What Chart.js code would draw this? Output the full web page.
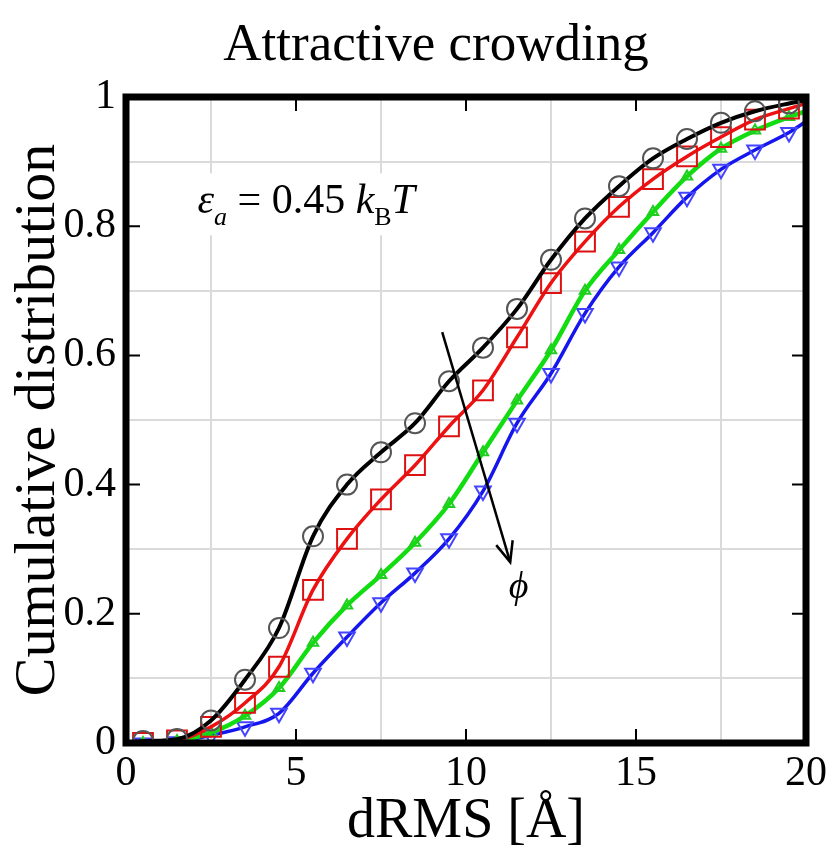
<!DOCTYPE html>
<html>
<head>
<meta charset="utf-8">
<script src="https://cdn.jsdelivr.net/npm/chart.js@4/dist/chart.umd.min.js"></script>
<style>
  body { margin: 0; background: #fff; }
  #wrap { width: 835px; height: 854px; position: relative; }
</style>
</head>
<body>
<div id="wrap"><canvas id="myChart"></canvas></div>
<script>
// dRMS bins (Å) where the curves are sampled, plus the two edges of the plot
const dRms = [0, 0.5, 1.5, 2.5, 3.5, 4.5, 5.5, 6.5, 7.5, 8.5, 9.5, 10.5, 11.5, 12.5, 13.5, 14.5, 15.5, 16.5, 17.5, 18.5, 19.5, 20]

// cumulative distribution, one array per crowder fraction (phi grows black -> blue)
const cdfBlack = [0, 0.003, 0.006, 0.035, 0.098, 0.178, 0.32, 0.40, 0.45, 0.495, 0.56, 0.612, 0.672, 0.748, 0.812, 0.862, 0.905, 0.935, 0.96, 0.978, 0.99, 0.995]
const cdfRed   = [0, 0.0, 0.004, 0.025, 0.062, 0.118, 0.237, 0.316, 0.377, 0.43, 0.49, 0.546, 0.628, 0.712, 0.776, 0.83, 0.873, 0.908, 0.938, 0.965, 0.982, 0.99]
const cdfGreen = [0, 0.0, 0.003, 0.016, 0.042, 0.085, 0.155, 0.213, 0.26, 0.31, 0.37, 0.45, 0.53, 0.608, 0.7, 0.763, 0.822, 0.877, 0.92, 0.948, 0.969, 0.978]
const cdfBlue  = [0, 0.0, 0.002, 0.012, 0.025, 0.046, 0.108, 0.164, 0.217, 0.263, 0.316, 0.39, 0.495, 0.572, 0.665, 0.737, 0.79, 0.845, 0.888, 0.918, 0.945, 0.962]

const xTicks = [0, 5, 10, 15, 20]
const yTicks = [0, 0.2, 0.4, 0.6, 0.8, 1]

const serif = "'Liberation Serif', 'Times New Roman', serif"
Chart.defaults.font.family = serif
Chart.defaults.color = '#000'

function points(ys) {
  return dRms.map((x, i) => ({x: x, y: ys[i]}))
}
// no marker on the two edge points
function radii(r) {
  return dRms.map((x) => (x === 0 || x === 20) ? 0 : r)
}

function series(label, ys, color, style, r, width, markerColor, rot) {
  return {
    label: label,
    data: points(ys),
    borderColor: color,
    borderWidth: width,
    backgroundColor: 'rgba(0,0,0,0)',
    pointStyle: style,
    pointRadius: radii(r),
    pointBorderColor: markerColor,
    pointBorderWidth: 2,
    pointRotation: rot || 0,
    cubicInterpolationMode: 'monotone',
    fill: false
  }
}

const isMajor = (v, step) => Math.abs(v / step - Math.round(v / step)) < 1e-6

const frame = {
  id: 'frame',
  beforeDatasetsDraw(chart) {
    const ctx = chart.ctx
    const xs = chart.scales.x, ys = chart.scales.y
    // annotation with white box behind
    const x0 = xs.getPixelForValue(2.1), y0 = ys.getPixelForValue(0.82)
    ctx.save()
    ctx.fillStyle = '#fff'
    ctx.fillRect(x0 - 4, y0 - 40, 255, 62)
    ctx.fillStyle = '#000'
    ctx.textBaseline = 'alphabetic'
    let cx = x0
    const put = (txt, font, dy) => {
      ctx.font = font
      ctx.fillText(txt, cx, y0 + (dy || 0))
      cx += ctx.measureText(txt).width
    }
    put('ε', 'italic 42px ' + serif)
    put('a', 'italic 26px ' + serif, 12)
    put(' = 0.45 ', '42px ' + serif)
    put('k', 'italic 42px ' + serif)
    put('B', '26px ' + serif, 12)
    put('T', 'italic 42px ' + serif)
    ctx.restore()
  },
  afterDatasetsDraw(chart) {
    const ctx = chart.ctx
    const a = chart.chartArea
    const xs = chart.scales.x, ys = chart.scales.y
    ctx.save()
    // inward ticks on all four sides
    ctx.strokeStyle = '#000'
    ctx.lineWidth = 2
    ctx.beginPath()
    xTicks.forEach((v) => {
      const px = xs.getPixelForValue(v)
      ctx.moveTo(px, a.bottom); ctx.lineTo(px, a.bottom - 14)
      ctx.moveTo(px, a.top); ctx.lineTo(px, a.top + 14)
    })
    yTicks.forEach((v) => {
      const py = ys.getPixelForValue(v)
      ctx.moveTo(a.left, py); ctx.lineTo(a.left + 14, py)
      ctx.moveTo(a.right, py); ctx.lineTo(a.right - 14, py)
    })
    ctx.stroke()
    // thick frame
    ctx.lineWidth = 7
    ctx.strokeRect(a.left, a.top, a.right - a.left, a.bottom - a.top)

    // arrow showing increasing phi
    const ax0 = xs.getPixelForValue(9.3), ay0 = ys.getPixelForValue(0.636)
    const ax1 = xs.getPixelForValue(11.3), ay1 = ys.getPixelForValue(0.28)
    ctx.lineWidth = 2.5
    ctx.beginPath()
    ctx.moveTo(ax0, ay0); ctx.lineTo(ax1, ay1)
    ctx.stroke()
    const ang = Math.atan2(ay1 - ay0, ax1 - ax0)
    ctx.beginPath()
    ctx.moveTo(ax1 - 22 * Math.cos(ang - 0.4), ay1 - 22 * Math.sin(ang - 0.4))
    ctx.lineTo(ax1, ay1)
    ctx.lineTo(ax1 - 22 * Math.cos(ang + 0.4), ay1 - 22 * Math.sin(ang + 0.4))
    ctx.stroke()
    ctx.font = 'italic 38px ' + serif
    ctx.fillStyle = '#000'
    ctx.textAlign = 'center'
    ctx.textBaseline = 'middle'
    ctx.fillText('ϕ', xs.getPixelForValue(11.55), ys.getPixelForValue(0.24))

    // title
    ctx.font = '53px ' + serif
    ctx.fillText('Attractive crowding', 436, 46)
    ctx.restore()
  }
}

const ctx = document.getElementById('myChart')
const lineChart = new Chart(ctx, {
  type: 'line',
  data: {
    datasets: [
      series('black', cdfBlack, '#000000', 'circle', 10, 4, '#555555'),
      series('red', cdfRed, '#ee1111', 'rect', 14, 3.5, '#dd1111'),
      series('green', cdfGreen, '#11dd11', 'triangle', 6, 4.5, '#22cc22'),
      series('blue', cdfBlue, '#1515ee', 'triangle', 9, 3.5, '#4444ff', 180)
    ]
  },
  options: {
    responsive: true,
    maintainAspectRatio: false,
    animation: false,
    layout: {padding: {top: 97, right: 29, left: 0, bottom: 0}},
    plugins: {legend: {display: false}, tooltip: {enabled: false}},
    scales: {
      x: {
        type: 'linear',
        min: 0, max: 20,
        afterFit(scale) { scale.height = 111; scale.paddingLeft = 0; scale.paddingRight = 0 },
        border: {display: false},
        grid: {
          drawTicks: false,
          lineWidth: 2,
          color: (c) => isMajor(c.tick.value, 5) ? 'rgba(0,0,0,0)' : '#dadada'
        },
        ticks: {
          stepSize: 2.5,
          autoSkip: false,
          maxRotation: 0,
          padding: 6,
          color: '#000',
          font: {family: serif, size: 42},
          callback: (v) => isMajor(v, 5) ? String(v) : ''
        },
        title: {
          display: true,
          text: 'dRMS [Å]',
          color: '#000',
          font: {family: serif, size: 56, lineHeight: 1},
          padding: {top: 0, bottom: 4}
        }
      },
      y: {
        min: 0, max: 1,
        afterFit(scale) { scale.width = 126; scale.paddingTop = 0; scale.paddingBottom = 0 },
        border: {display: false},
        grid: {
          drawTicks: false,
          lineWidth: 2,
          color: (c) => isMajor(c.tick.value, 0.2) ? 'rgba(0,0,0,0)' : '#dadada'
        },
        ticks: {
          stepSize: 0.1,
          autoSkip: false,
          padding: 10,
          color: '#000',
          font: {family: serif, size: 42},
          callback: (v) => {
            if (!isMajor(v, 0.2)) return ''
            if (isMajor(v, 1)) return String(Math.round(v))
            return v.toFixed(1)
          }
        },
        title: {
          display: true,
          text: 'Cumulative distribution',
          color: '#000',
          font: {family: serif, size: 58, lineHeight: 1},
          padding: {top: 10, bottom: 0}
        }
      }
    }
  },
  plugins: [frame]
})
</script>
</body>
</html>
